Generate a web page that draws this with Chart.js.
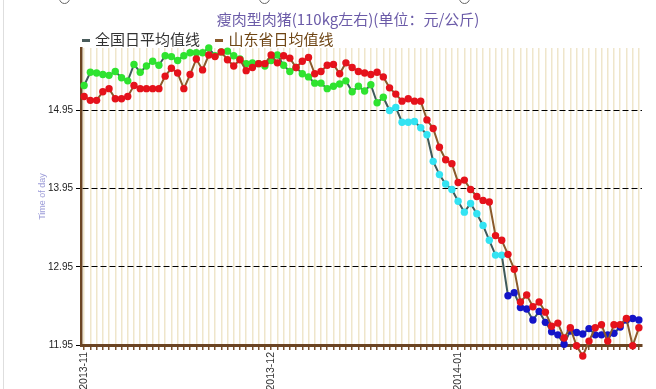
<!DOCTYPE html>
<html>
<head>
<meta charset="utf-8">
<script src="https://cdn.jsdelivr.net/npm/chart.js@4/dist/chart.umd.min.js"></script>
<style>
  html, body { margin: 0; padding: 0; background: #fff; overflow: hidden; }
  #wrap { position: relative; width: 656px; height: 389px; }
  #edge { position: absolute; left: 3px; top: 0; width: 1px; height: 389px; background: #dedede; }
  .radio { position: absolute; top: -7px; width: 9px; height: 9px; border: 1px solid #666; border-radius: 50%; }
  #title { position: absolute; left: 0; top: 8px; width: 696px; text-align: center;
           font: 15px "Noto Sans CJK SC"; color: #6b5ba8; white-space: nowrap; }
  #legend { position: absolute; left: 82px; top: 28px; font: 15px "Noto Sans CJK SC"; white-space: nowrap; }
  #legend span.item { margin-right: 12px; }
  #legend span.dash { display: inline-block; width: 8px; height: 3px; vertical-align: middle; margin-right: 5px; }
  #box { position: absolute; left: 0; top: 0; width: 656px; height: 389px; }
</style>
</head>
<body>
<div id="wrap">
  <div id="edge"></div>
  <div class="radio" style="left:59px"></div>
  <div class="radio" style="left:259px"></div>
  <div class="radio" style="left:459px"></div>
  <div id="box"><canvas id="priceChart"></canvas></div>
  <div id="title">瘦肉型肉猪(110kg左右)(单位：元/公斤)</div>
  <div id="legend">
    <span class="item" style="color:#333"><span class="dash" style="background:#4a5c5c"></span>全国日平均值线</span>
    <span class="item" style="color:#6e4514"><span class="dash" style="background:#8b5a2b"></span>山东省日均值线</span>
  </div>
</div>
<script>
// month labels and where they fall in the daily series
const monthTicks = ['2013-11', '2013-12', '2014-01'];
const monthTickAt = [0, 30, 60];

// y axis tick values
const yTicks = [11.95, 12.95, 13.95, 14.95];

// national daily average (全国日平均值线)
const nationalAvg = [
  15.27, 15.44, 15.43, 15.41, 15.40, 15.45, 15.37, 15.33, 15.54, 15.44,
  15.52, 15.58, 15.53, 15.65, 15.64, 15.59, 15.65, 15.69, 15.69, 15.69,
  15.75, 15.65, 15.70, 15.71, 15.65, 15.61, 15.55, 15.56, 15.55, 15.52,
  15.59, 15.66, 15.53, 15.45, 15.50, 15.42, 15.38, 15.30, 15.30, 15.23,
  15.26, 15.29, 15.33, 15.19, 15.26, 15.20, 15.28, 15.05, 15.12, 14.95,
  14.99, 14.80, 14.80, 14.81, 14.73, 14.64, 14.30, 14.13, 14.01, 13.94,
  13.79, 13.65, 13.76, 13.63, 13.48, 13.29, 13.10, 13.10, 12.58, 12.62,
  12.43, 12.41, 12.27, 12.38, 12.24, 12.12, 12.08, 11.96, 12.13, 12.11,
  12.09, 12.16, 12.08, 12.08, 12.08, 12.10, 12.18, 12.27, 12.29, 12.27
];

// Shandong daily average (山东省日均值线)
const shandongAvg = [
  15.13, 15.08, 15.08, 15.19, 15.23, 15.10, 15.10, 15.13, 15.27, 15.23,
  15.23, 15.23, 15.23, 15.39, 15.49, 15.43, 15.23, 15.41, 15.61, 15.47,
  15.66, 15.64, 15.70, 15.60, 15.52, 15.60, 15.46, 15.50, 15.55, 15.55,
  15.66, 15.56, 15.65, 15.62, 15.50, 15.58, 15.63, 15.42, 15.45, 15.53,
  15.54, 15.42, 15.56, 15.50, 15.45, 15.43, 15.41, 15.44, 15.38, 15.24,
  15.16, 15.07, 15.10, 15.07, 15.07, 14.83, 14.72, 14.48, 14.32, 14.27,
  14.03, 14.06, 13.94, 13.85, 13.80, 13.78, 13.35, 13.29, 13.11, 12.92,
  12.50, 12.59, 12.44, 12.50, 12.37, 12.19, 12.23, 12.04, 12.17, 11.94,
  11.81, 12.00, 12.17, 12.21, 12.00, 12.21, 12.21, 12.29, 11.94, 12.17
];

const labels = nationalAvg.map((v, i) => {
  const k = monthTickAt.indexOf(i);
  return k >= 0 ? monthTicks[k] : '';
});

// national points change colour with price level
function nationalColor(ctx) {
  const v = ctx.raw;
  if (v > 15.0) return '#2fe32f';
  if (v > 12.95) return '#33e3f2';
  return '#1414c8';
}

const ctx = document.getElementById('priceChart').getContext('2d');

new Chart(ctx, {
  type: 'line',
  data: {
    labels: labels,
    datasets: [{
      label: '全国日平均值线',
      data: nationalAvg,
      borderColor: '#3f5a5a',
      borderWidth: 2,
      pointRadius: 3.7,
      pointHoverRadius: 14, // also widens the margin so points under the axis still get drawn
      pointBorderWidth: 0,
      pointBackgroundColor: nationalColor,
      clip: false,
      order: 2
    }, {
      label: '山东省日均值线',
      data: shandongAvg,
      borderColor: '#8b5a2b',
      borderWidth: 2,
      pointRadius: 3.7,
      pointHoverRadius: 14,
      pointBorderWidth: 0,
      pointBackgroundColor: '#e5121b',
      clip: false,
      order: 1
    }]
  },
  options: {
    responsive: true,
    maintainAspectRatio: false,
    animation: false,
    events: [],
    layout: {
      padding: { top: 48, right: 5, left: 33, bottom: 0 }
    },
    plugins: {
      legend: { display: false },
      tooltip: { enabled: false }
    },
    scales: {
      x: {
        type: 'category',
        offset: true,
        grid: {
          offset: false,
          color: '#efe6cb',
          lineWidth: 1.5,
          tickColor: '#7a5230',
          tickLength: 5,
          tickWidth: 1.5
        },
        border: { color: '#6b4423', width: 3 },
        ticks: {
          autoSkip: false,
          maxRotation: 90,
          minRotation: 90,
          padding: 2,
          color: '#333',
          font: { family: 'Liberation Sans', size: 10.5 }
        },
        afterFit: function(scale) {
          scale.height = 44;
        }
      },
      y: {
        min: 11.95,
        max: 15.75,
        afterBuildTicks: function(scale) {
          scale.ticks = yTicks.map(v => ({ value: v }));
        },
        grid: {
          color: function(c) {
            return c.tick && c.tick.value === 11.95 ? 'rgba(0,0,0,0)' : '#000';
          },
          lineWidth: 1,
          tickLength: 5,
          tickColor: '#000'
        },
        border: { color: '#6b4423', width: 2.5, dash: [6, 3] },
        ticks: {
          padding: 3,
          color: '#222',
          font: { family: 'Liberation Sans', size: 10 },
          callback: function(value) {
            return value.toFixed(2);
          }
        },
        title: {
          display: true,
          text: 'Time of day',
          color: '#9c9cd8',
          font: { family: 'Liberation Sans', size: 9 }
        },
        afterFit: function(scale) {
          scale.width = 48;
        }
      }
    }
  }
});
</script>
</body>
</html>
